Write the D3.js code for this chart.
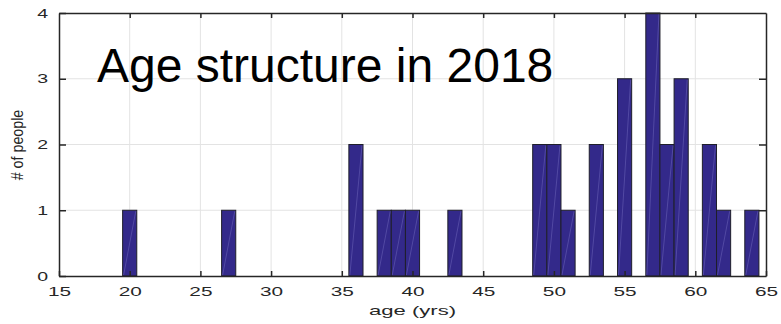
<!DOCTYPE html>
<html>
<head>
<meta charset="utf-8">
<script src="https://cdn.jsdelivr.net/npm/d3@7"></script>
<style>
  html, body { margin: 0; padding: 0; background: #fff; }
  svg { display: block; font-family: "Liberation Sans", Arial, Helvetica, sans-serif; }
  .grid line { stroke: #e3e3e3; stroke-width: 1; }
  .axis path, .axis line { stroke: #262626; stroke-width: 1.5; }
  .axis text { fill: #262626; font-size: 13px; }
</style>
</head>
<body>
<svg id="chart" width="781" height="324"></svg>
<script>
// Ages present in 2018 and how many people have each age
const ages   = [20, 27, 36, 38, 39, 40, 43, 49, 50, 51, 53, 55, 57, 58, 59, 61, 62, 64];
const counts = [ 1,  1,  2,  1,  1,  1,  1,  2,  2,  1,  2,  3,  4,  2,  3,  2,  1,  1];

const xTicks = [15, 20, 25, 30, 35, 40, 45, 50, 55, 60, 65];
const yTicks = [0, 1, 2, 3, 4];

const titleText = "Age structure in 2018";
const xLabel = "age (yrs)";
const yLabel = "# of people";

const svg = d3.select("#chart");
const margin = { left: 59, right: 15, top: 13, bottom: 48 };
const W = 781, H = 324;

const x = d3.scaleLinear().domain([15, 65]).range([margin.left, W - margin.right]);
const y = d3.scaleLinear().domain([0, 4]).range([H - margin.bottom, margin.top]);

// grid
const grid = svg.append("g").attr("class", "grid");
grid.selectAll("line.v").data(xTicks.slice(1, -1)).join("line")
  .attr("x1", d => x(d)).attr("x2", d => x(d))
  .attr("y1", y(0)).attr("y2", y(4));
grid.selectAll("line.h").data(yTicks.slice(1, -1)).join("line")
  .attr("x1", x(15)).attr("x2", x(65))
  .attr("y1", d => y(d)).attr("y2", d => y(d));

// histogram bars, one unit wide centred on each age
const data = ages.map((a, i) => ({ age: a, n: counts[i] }));
const bars = svg.append("g");
bars.selectAll("rect").data(data).join("rect")
  .attr("x", d => x(d.age - 0.5))
  .attr("width", d => x(d.age + 0.5) - x(d.age - 0.5))
  .attr("y", d => y(d.n))
  .attr("height", d => y(0) - y(d.n))
  .attr("fill", "#33298a")
  .attr("stroke", "#1f1f2a")
  .attr("stroke-width", 1);
// faint seam across each patch
bars.selectAll("line").data(data).join("line")
  .attr("x1", d => x(d.age - 0.5) + 1).attr("y1", y(0) - 1)
  .attr("x2", d => x(d.age + 0.5) - 1).attr("y2", d => y(d.n) + 1)
  .attr("stroke", "#7a72c4").attr("stroke-width", 0.8).attr("opacity", 0.55);

// axes (box with inward ticks)
const xb = svg.append("g").attr("class", "axis")
  .attr("transform", `translate(0,${y(0)})`)
  .call(d3.axisBottom(x).tickValues(xTicks).tickFormat(d3.format("d"))
    .tickSizeInner(-5).tickSizeOuter(0).tickPadding(11));
xb.selectAll("text").attr("transform", "scale(1.6,1)");

svg.append("g").attr("class", "axis")
  .attr("transform", `translate(0,${y(4)})`)
  .call(d3.axisTop(x).tickValues(xTicks.slice(1, -1)).tickSizeInner(-5).tickSizeOuter(0).tickFormat(""));

const yl = svg.append("g").attr("class", "axis")
  .attr("transform", `translate(${x(15)},0)`)
  .call(d3.axisLeft(y).tickValues(yTicks).tickFormat(d3.format("d"))
    .tickSizeInner(-7).tickSizeOuter(0).tickPadding(11));
yl.selectAll("text").attr("x", 0).attr("transform", "translate(-11,0) scale(1.5,1)");

svg.append("g").attr("class", "axis")
  .attr("transform", `translate(${x(65)},0)`)
  .call(d3.axisRight(y).tickValues(yTicks.slice(1, -1)).tickSizeInner(-7).tickSizeOuter(0).tickFormat(""));

// axis labels
svg.append("text")
  .attr("transform", `translate(${(x(15) + x(65)) / 2},315) scale(1.7,1)`)
  .attr("text-anchor", "middle")
  .attr("font-size", 13).attr("fill", "#262626")
  .text(xLabel);

svg.append("text")
  .attr("transform", `translate(23,145) rotate(-90) scale(1.02,1.15)`)
  .attr("text-anchor", "middle")
  .attr("font-size", 14).attr("fill", "#262626")
  .text(yLabel);

// title inside the plot area
svg.append("text")
  .attr("x", 97).attr("y", 82)
  .attr("font-size", 48).attr("fill", "#000")
  .text(titleText);
</script>
</body>
</html>
